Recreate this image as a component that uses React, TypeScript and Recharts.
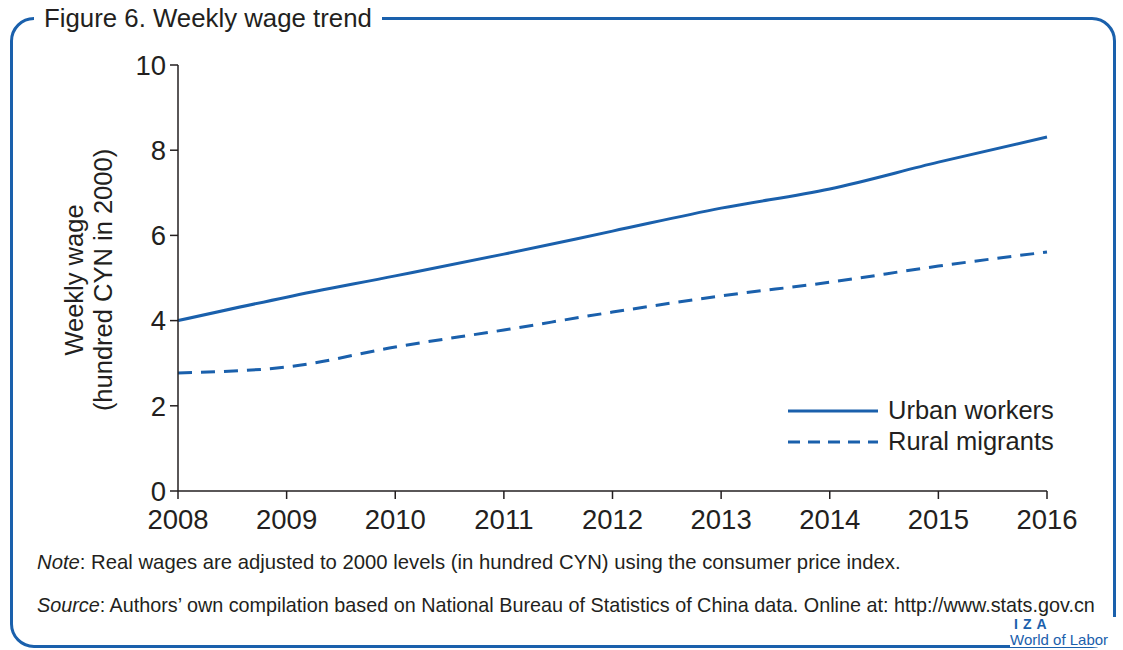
import { LineChart, Line, XAxis, YAxis, Legend } from 'recharts';

const years = ['2008', '2009', '2010', '2011', '2012', '2013', '2014', '2015', '2016'];
const urbanWorkers = [4.0, 4.55, 5.05, 5.56, 6.1, 6.64, 7.09, 7.72, 8.31];
const ruralMigrants = [2.77, 2.91, 3.38, 3.78, 4.2, 4.58, 4.9, 5.28, 5.61];
const yTicks = [0, 2, 4, 6, 8, 10];

const BLUE = '#1a60ac';
const INK = '#231f20';
const FONT = '"Liberation Sans", Arial, sans-serif';

const chartData = years.map((year, i) => ({
  year,
  urban: urbanWorkers[i],
  rural: ruralMigrants[i],
}));

function LegendBox() {
  const rows = [
    { label: 'Urban workers', dash: undefined },
    { label: 'Rural migrants', dash: '12 8' },
  ];
  return (
    <div style={{ fontFamily: FONT, fontSize: 25.5, color: INK }}>
      {rows.map((r) => (
        <div key={r.label} style={{ display: 'flex', alignItems: 'center', height: 31 }}>
          <svg width={96} height={10}>
            <line x1={0} y1={5} x2={90} y2={5} stroke={BLUE} strokeWidth={3} strokeDasharray={r.dash} />
          </svg>
          <span style={{ marginLeft: 4 }}>{r.label}</span>
        </div>
      ))}
    </div>
  );
}

export default function App() {
  return (
    <div style={{ position: 'absolute', left: 0, top: 0, width: 1123, height: 650, background: '#fff', overflow: 'hidden', fontFamily: FONT }}>
      {/* rounded frame */}
      <div
        style={{
          position: 'absolute',
          left: 10,
          top: 17,
          width: 1100,
          height: 625,
          border: `3px solid ${BLUE}`,
          borderRadius: 24,
        }}
      />
      <div
        style={{
          position: 'absolute',
          left: 34,
          top: 2,
          padding: '0 10px',
          background: '#fff',
          fontSize: 25.8,
          color: INK,
          lineHeight: '32px',
        }}
      >
        Figure 6. Weekly wage trend
      </div>

      <div style={{ position: 'absolute', left: 0, top: 0 }}>
        <LineChart width={1123} height={650} data={chartData} margin={{ top: 65, right: 76, bottom: 129, left: 118 }}>
          <XAxis
            dataKey="year"
            height={30}
            interval={0}
            stroke={INK}
            strokeWidth={1.5}
            tickSize={8}
            tick={{ fill: INK, fontSize: 27.5, fontFamily: FONT, dy: 8 }}
          />
          <YAxis
            width={60}
            domain={[0, 10]}
            ticks={yTicks}
            interval={0}
            stroke={INK}
            strokeWidth={1.5}
            tickSize={8}
            tick={{ fill: INK, fontSize: 27.5, fontFamily: FONT, dx: -2 }}
          />
          <Legend
            layout="vertical"
            verticalAlign="middle"
            align="center"
            wrapperStyle={{ left: 788, top: 395, width: 320 }}
            content={() => <LegendBox />}
          />
          <Line
            type="monotone"
            dataKey="urban"
            name="Urban workers"
            stroke={BLUE}
            strokeWidth={3}
            dot={false}
            isAnimationActive={false}
          />
          <Line
            type="monotone"
            dataKey="rural"
            name="Rural migrants"
            stroke={BLUE}
            strokeWidth={3}
            strokeDasharray="14 9"
            dot={false}
            isAnimationActive={false}
          />
        </LineChart>
      </div>

      {/* y-axis title */}
      <div
        style={{
          position: 'absolute',
          left: 89,
          top: 280,
          transform: 'translate(-50%, -50%) rotate(-90deg)',
          whiteSpace: 'nowrap',
          textAlign: 'center',
          fontSize: 25.5,
          lineHeight: '29px',
          color: INK,
        }}
      >
        Weekly wage
        <br />
        (hundred CYN in 2000)
      </div>

      <div style={{ position: 'absolute', left: 37, top: 551, fontSize: 20.3, color: INK }}>
        <i>Note</i>: Real wages are adjusted to 2000 levels (in hundred CYN) using the consumer price index.
      </div>
      <div style={{ position: 'absolute', left: 37, top: 594, fontSize: 19.8, color: INK }}>
        <i>Source</i>: Authors’ own compilation based on National Bureau of Statistics of China data. Online at: http://www.stats.gov.cn
      </div>

      <div
        style={{
          position: 'absolute',
          left: 1010,
          top: 617,
          width: 120,
          background: '#fff',
          color: BLUE,
          lineHeight: '15px',
        }}
      >
        <div style={{ fontSize: 14, fontWeight: 'bold', letterSpacing: 5, paddingLeft: 4 }}>IZA</div>
        <div style={{ fontSize: 15 }}>World of Labor</div>
      </div>
    </div>
  );
}
